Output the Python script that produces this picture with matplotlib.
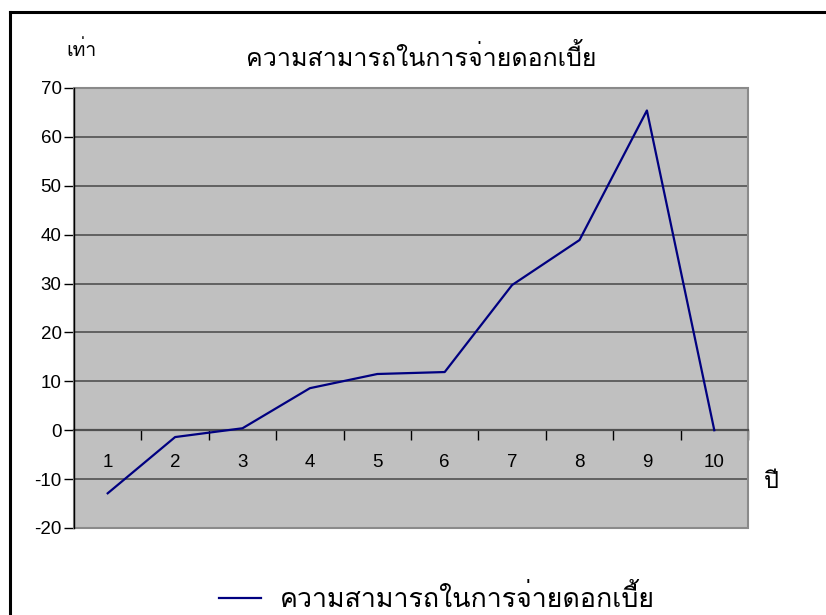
import matplotlib
matplotlib.use("Agg")
import matplotlib.pyplot as plt
from matplotlib.lines import Line2D
from matplotlib.patches import Rectangle

# interest coverage ratio per year
years = [1, 2, 3, 4, 5, 6, 7, 8, 9, 10]
coverage = [-12.9, -1.4, 0.4, 8.6, 11.5, 11.9, 29.7, 38.9, 65.4, 0.0]
y_ticks = [-20, -10, 0, 10, 20, 30, 40, 50, 60, 70]

title = "ความสามารถในการจ่ายดอกเบี้ย"
series_name = "ความสามารถในการจ่ายดอกเบี้ย"
y_unit = "เท่า"
x_unit = "ปี"

thai = ["Loma", "DejaVu Sans"]
digits = ["Liberation Sans Narrow", "Liberation Sans", "DejaVu Sans"]

W, H = 826, 615
fig = plt.figure(figsize=(W / 100, H / 100), dpi=100)
ax = fig.add_axes([74 / W, 1 - 528 / H, 674 / W, 440 / H])
ax.set_facecolor("#c0c0c0")

ax.set_xlim(0.5, 10.5)
ax.set_ylim(-20, 70)

for v in y_ticks[1:-1]:
    if v != 0:
        ax.axhline(v, color="#5a5a5a", lw=1.3, zorder=1)

ax.plot(years, coverage, color="#000080", lw=1.6, zorder=3, label=series_name)

# plot area border
ax.add_patch(Rectangle((0, 0), 1, 1, transform=ax.transAxes, fill=False,
                       edgecolor="#8a8a8a", lw=1.5, zorder=2, clip_on=False))

for s in ["top", "right"]:
    ax.spines[s].set_visible(False)
ax.spines["left"].set_color("black")
ax.spines["left"].set_linewidth(1.0)
ax.spines["bottom"].set_position(("data", 0))
ax.spines["bottom"].set_color("#505050")
ax.spines["bottom"].set_linewidth(1.6)
ax.spines["bottom"].set_zorder(2)

ax.set_yticks(y_ticks)
ax.set_yticklabels([str(v) for v in y_ticks], family=digits, fontsize=13.5)
ax.tick_params(axis="y", direction="out", length=7, width=1, color="black", pad=2)

# ticks between categories, labels centred on them
ax.set_xticks([x + 0.5 for x in years])
ax.set_xticklabels([])
ax.set_xticks(years, minor=True)
ax.set_xticklabels([str(x) for x in years], minor=True, family=digits, fontsize=13.5)
ax.tick_params(axis="x", which="major", direction="out", length=7, width=1, color="black")
ax.tick_params(axis="x", which="minor", length=0, pad=17)

fig.text(421 / W, 1 - 58 / H, title, family=thai, fontsize=18, ha="center", va="center")
fig.text(82 / W, 1 - 50 / H, y_unit, family=thai, fontsize=14, ha="center", va="center")
fig.text(771 / W, 1 - 482 / H, x_unit, family=thai, fontsize=17, ha="center", va="center")

fig.legend(loc="center", bbox_to_anchor=(437 / W, 1 - 598 / H), frameon=False,
           prop={"family": thai, "size": 19.3}, handlelength=1.55, handletextpad=0.7)

# outer chart frame
fig.add_artist(Line2D([9.5 / W, 9.5 / W], [0, 1 - 12 / H], color="black", lw=2.2,
                      transform=fig.transFigure))
fig.add_artist(Line2D([9.5 / W, 1], [1 - 12 / H, 1 - 12 / H], color="black", lw=2.2,
                      transform=fig.transFigure))

fig.savefig("out.png", dpi=100)
